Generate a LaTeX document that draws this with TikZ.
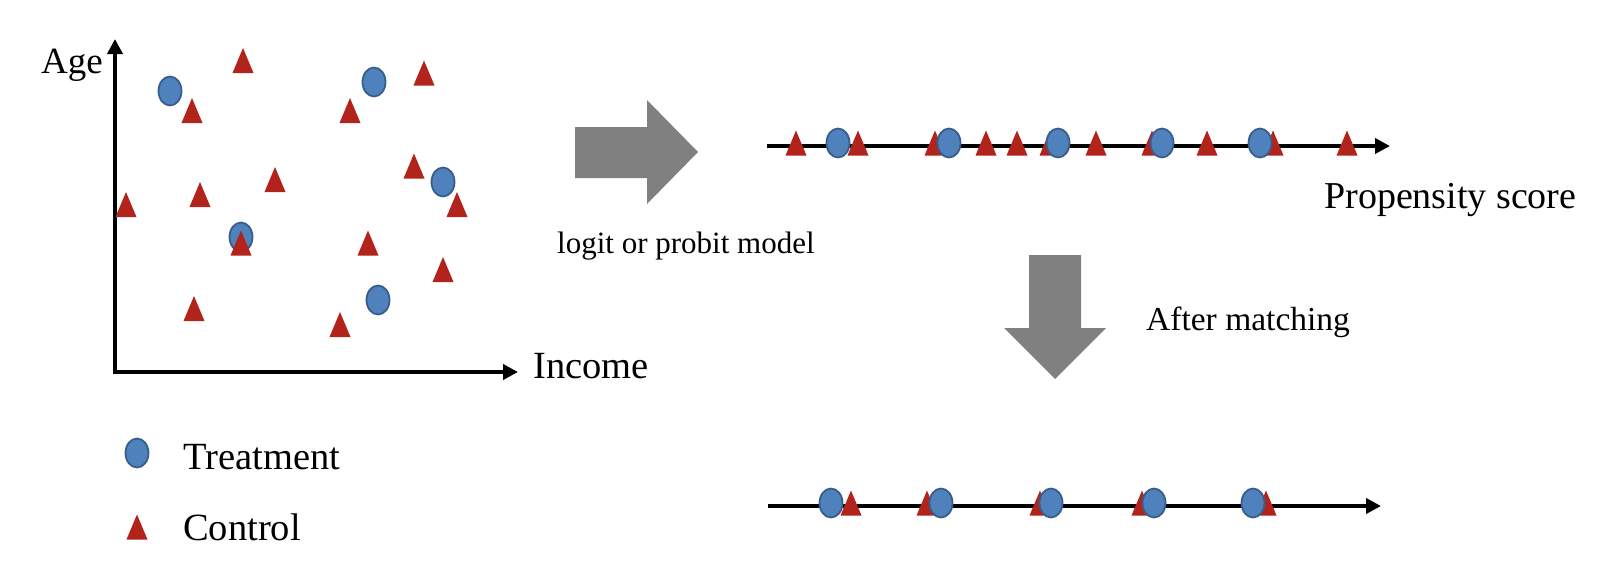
\documentclass[tikz,border=0pt]{standalone}
\usepackage{fontspec}
\setmainfont{Liberation Serif}
\usetikzlibrary{arrows.meta}
\definecolor{ctrlred}{RGB}{178,36,27}
\definecolor{treatblue}{RGB}{79,129,189}
\definecolor{treatedge}{RGB}{56,93,138}
\definecolor{blockgray}{RGB}{128,128,128}
\tikzset{
  ctri/.pic={\fill[ctrlred] (-10.5pt,-12.5pt) -- (10.5pt,-12.5pt) -- (0pt,12.5pt) -- cycle;},
  treat/.pic={\draw[fill=treatblue, draw=treatedge, line width=1.8pt] (0,0) ellipse [x radius=11.5pt, y radius=14.5pt];},
  biglbl/.style={anchor=base west, inner sep=0pt, font=\fontsize{38.5}{44}\selectfont},
  logitlbl/.style={anchor=base west, inner sep=0pt, font=\fontsize{31}{37}\selectfont},
  afterlbl/.style={anchor=base west, inner sep=0pt, font=\fontsize{33.5}{39}\selectfont},
  axisline/.style={line width=4pt, -{Triangle[length=15pt,width=15pt]}},
  blockarrow/.style={fill=blockgray}
}
\begin{document}
\begin{tikzpicture}[x=1pt,y=-1pt]
\useasboundingbox (0,0) rectangle (1616,574);
% scatter axes
\coordinate (ytip) at (115,39);
\coordinate (origin) at (115,372);
\coordinate (xtip) at (518,372);
\draw[line width=4pt, {Triangle[length=15pt,width=15pt]}-{Triangle[length=15pt,width=15pt]}] (ytip) -- (origin) -- (xtip);
\node[biglbl, font=\fontsize{37}{44}\selectfont] (age) at (41,73) {Age};
\node[biglbl] (income) at (533,378) {Income};
% scatter circles
\pic (c1) at (170,91) {treat};
\pic (c2) at (374,82) {treat};
\pic (c3) at (443,182) {treat};
\pic (c4) at (241,237) {treat};
\pic (c5) at (378,300) {treat};
% scatter triangles
\pic (t1) at (243,60.5) {ctri};
\pic (t2) at (192,110.5) {ctri};
\pic (t3) at (275,179.5) {ctri};
\pic (t4) at (200,194.5) {ctri};
\pic (t5) at (126,204.5) {ctri};
\pic (t6) at (424,73) {ctri};
\pic (t7) at (350,110.5) {ctri};
\pic (t8) at (414,166) {ctri};
\pic (t9) at (457,204.5) {ctri};
\pic (t10) at (241,243) {ctri};
\pic (t11) at (194,308.5) {ctri};
\pic (t12) at (368,243) {ctri};
\pic (t13) at (443,269.5) {ctri};
\pic (t14) at (340,324.5) {ctri};
% legend
\pic (lc) at (137,453) {treat};
\pic (lt) at (137,527) {ctri};
\node[biglbl] (ltreat) at (183,469) {Treatment};
\node[biglbl] (lctrl) at (183,540) {Control};
% right block arrow
\fill[blockarrow] (575,127) -- (647,127) -- (647,100) -- (698,152) -- (647,204) -- (647,178) -- (575,178) -- cycle;
\node[logitlbl] (model) at (557,253) {logit or probit model};
% top line
\coordinate (ps0) at (767,146);
\coordinate (ps1) at (1390,146);
\draw[axisline] (ps0) -- (ps1);
\foreach \x [count=\i] in {796,858,935,986,1017,1050,1096,1152,1207,1273,1347}
  \pic (pt\i) at (\x,143) {ctri};
\foreach \x [count=\i] in {838,949,1058,1162,1260}
  \pic (pc\i) at (\x,143) {treat};
\node[biglbl, font=\fontsize{38}{44}\selectfont] (pscore) at (1324,208) {Propensity score};
% down block arrow
\fill[blockarrow] (1029,255) -- (1081,255) -- (1081,328) -- (1106,328) -- (1055,379) -- (1004,328) -- (1029,328) -- cycle;
\node[afterlbl] (after) at (1146,330) {After matching};
% bottom line
\coordinate (m0) at (768,506);
\coordinate (m1) at (1381,506);
\draw[axisline] (m0) -- (m1);
\foreach \x [count=\i] in {851,927,1040,1142,1266}
  \pic (mt\i) at (\x,503) {ctri};
\foreach \x [count=\i] in {831,941,1051,1154,1253}
  \pic (mc\i) at (\x,503) {treat};
\end{tikzpicture}
\end{document}
